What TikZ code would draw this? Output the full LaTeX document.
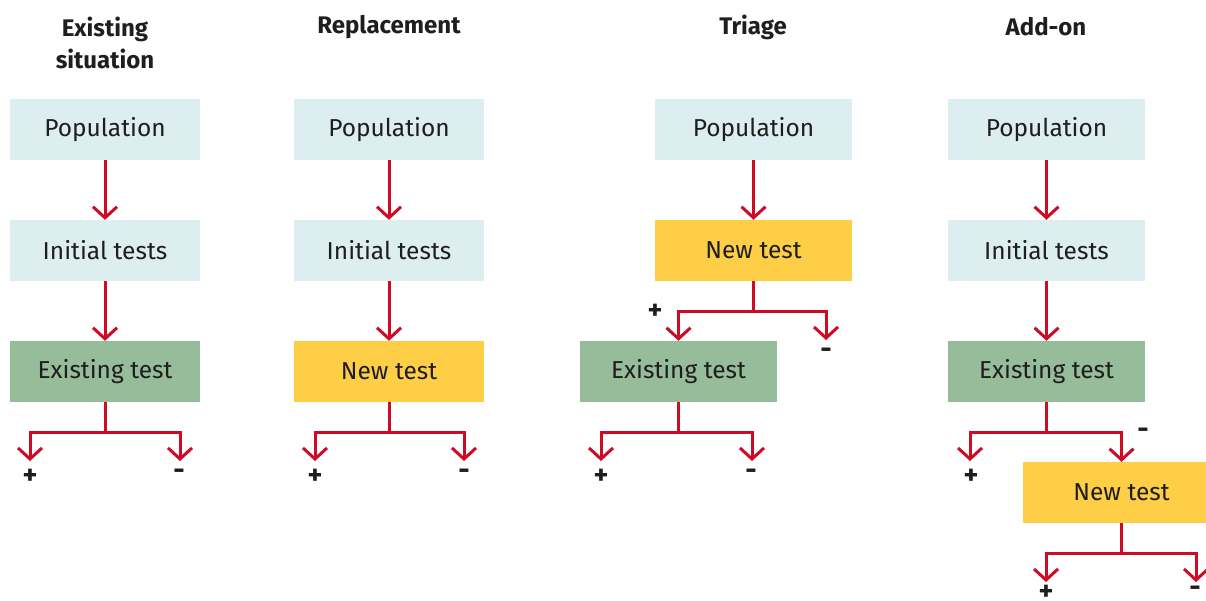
\documentclass[tikz,border=0pt]{standalone}
\usepackage{fontspec}
\setmainfont{Fira Sans}
\usetikzlibrary{arrows.meta}
\definecolor{popblue}{HTML}{DCEEF0}
\definecolor{oldgreen}{HTML}{97BC9A}
\definecolor{newyellow}{HTML}{FDCE46}
\definecolor{flowred}{HTML}{CF0A24}
\definecolor{ink}{HTML}{1E1E1E}
\tikzset{
  box/.style={minimum height=61pt, inner sep=0pt, text=ink,
    font=\fontsize{24.5}{27}\selectfont},
  narrow/.style={box, minimum width=190pt},
  wide/.style={box, minimum width=197pt},
  popbox/.style={fill=popblue},
  oldbox/.style={fill=oldgreen},
  newbox/.style={fill=newyellow},
  flow/.style={draw=flowred, line width=3pt,
    -{Straight Barb[length=11pt, width=24pt]}},
  title/.style={font=\fontsize{24}{32}\selectfont\bfseries, text=ink, align=center},
  sign/.style={font=\fontsize{28}{28}\selectfont\bfseries, text=ink, inner sep=0pt},
}
\begin{document}
\begin{tikzpicture}[x=1pt, y=-1pt]
\clip (0,0) rectangle (1206,601);
\fill[white] (0,0) rectangle (1206,601);

% ---- Existing situation ----
\node[title] (t1) at (105,43) {Existing\\situation};
\node[narrow, popbox] (p1) at (105,129.5) {Population};
\node[narrow, popbox] (i1) at (105,250.5) {Initial tests};
\node[narrow, oldbox] (e1) at (105,371.5) {Existing test};
\draw[flow] (p1) -- (i1);
\draw[flow] (i1) -- (e1);
\coordinate (e1p) at (30,461);
\coordinate (e1m) at (180,461);
\draw[flow] (e1.south) -- ++(0,30) -| (e1p);
\draw[flow] (e1.south) -- ++(0,30) -| (e1m);
\node[sign] (e1ps) at (30,477) {+};
\node[sign] (e1ms) at (179,474) {-};

% ---- Replacement ----
\node[title] (t2) at (389,27) {Replacement};
\node[narrow, popbox] (p2) at (389,129.5) {Population};
\node[narrow, popbox] (i2) at (389,250.5) {Initial tests};
\node[narrow, newbox] (n2) at (389,371.5) {New test};
\draw[flow] (p2) -- (i2);
\draw[flow] (i2) -- (n2);
\coordinate (n2p) at (315,461);
\coordinate (n2m) at (464,461);
\draw[flow] (n2.south) -- ++(0,30) -| (n2p);
\draw[flow] (n2.south) -- ++(0,30) -| (n2m);
\node[sign] (n2ps) at (315,477) {+};
\node[sign] (n2ms) at (464,474) {-};

% ---- Triage ----
\node[title] (t3) at (753,27) {Triage};
\node[wide, popbox] (p3) at (753.5,129.5) {Population};
\node[wide, newbox] (n3) at (753.5,250.5) {New test};
\node[wide, oldbox] (e3) at (678.5,371.5) {Existing test};
\draw[flow] (p3) -- (n3);
\coordinate (n3m) at (826,340);
\draw[flow] (n3.south) -- ++(0,30) -| (e3.north);
\draw[flow] (n3.south) -- ++(0,30) -| (n3m);
\node[sign] (n3ps) at (655,312) {+};
\node[sign] (n3ms) at (826,353) {-};
\coordinate (e3p) at (601,461);
\coordinate (e3m) at (752,461);
\draw[flow] (e3.south) -- ++(0,30) -| (e3p);
\draw[flow] (e3.south) -- ++(0,30) -| (e3m);
\node[sign] (e3ps) at (601,477) {+};
\node[sign] (e3ms) at (751,474) {-};

% ---- Add-on ----
\node[title] (t4) at (1046,27) {Add-on};
\node[wide, popbox] (p4) at (1046.5,129.5) {Population};
\node[wide, popbox] (i4) at (1046.5,250.5) {Initial tests};
\node[wide, oldbox] (e4) at (1046.5,371.5) {Existing test};
\node[wide, newbox] (n4) at (1121.5,492.5) {New test};
\draw[flow] (p4) -- (i4);
\draw[flow] (i4) -- (e4);
\coordinate (e4p) at (970,461);
\draw[flow] (e4.south) -- ++(0,30) -| (e4p);
\draw[flow] (e4.south) -- ++(0,30) -| (n4.north);
\node[sign] (e4ps) at (971,477) {+};
\node[sign] (e4ms) at (1143,433) {-};
\coordinate (n4p) at (1046,582);
\coordinate (n4m) at (1196,582);
\draw[flow] (n4.south) -- ++(0,30) -| (n4p);
\draw[flow] (n4.south) -- ++(0,30) -| (n4m);
\node[sign] (n4ps) at (1046,593) {+};
\node[sign] (n4ms) at (1195,591) {-};
\end{tikzpicture}
\end{document}
